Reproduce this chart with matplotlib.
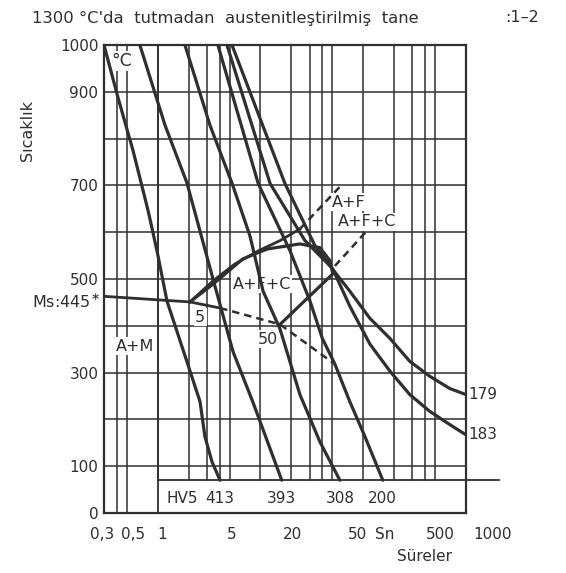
import numpy as np
import matplotlib
matplotlib.use("Agg")
from matplotlib import pyplot as plt

# grid of the chart: time [s] (log axis), temperature [°C]
grid_t = [0.4, 0.5, 1, 2, 3, 4, 5, 10, 20, 30, 40, 50, 100, 200, 300, 400, 500]
grid_T = [100, 200, 300, 400, 500, 600, 700, 800, 900]
hv_box_top = 70  # top of the HV5 strip

# cooling curves (time, temperature)
c413_t = [0.3, 0.41, 0.574, 0.806, 0.984, 1.23, 1.92, 2.58, 2.88, 3.38, 4.04]
c413_T = [1000, 888, 775, 646, 560, 453, 324, 238, 163, 109, 70]
c393_t = [0.67, 1.18, 1.92, 3.45, 5.4, 8.4, 16.1]
c393_T = [1000, 828, 706, 500, 345, 238, 70]
c308_t = [1.84, 3.23, 5.3, 7.9, 10.6, 15.5, 24.2, 37.9, 59.2]
c308_T = [1000, 828, 704, 592, 474, 393, 253, 152, 70]
c200_t = [3.85, 9.5, 19.4, 30.3, 40, 53, 74, 104, 155]
c200_T = [1000, 704, 560, 453, 373, 318, 238, 163, 70]
c179_t = [4.72, 12.4, 27.1, 47.5, 74, 116, 182, 284, 445, 695, 1000]
c179_T = [1000, 704, 582, 528, 474, 416, 373, 324, 292, 266, 253]
c183_t = [5.28, 17.3, 33.9, 50.6, 74, 116, 182, 284, 445, 695, 1000]
c183_T = [1000, 704, 571, 521, 442, 361, 303, 253, 217, 189, 167]
hv_labels = ["413", "393", "308", "200"]
end_labels = ["179", "183"]

# transformation lines
ms_t = [0.3, 2.06, 4.04]
ms_T = [463, 451, 438]
ms_dash_t = [4.04, 15.5, 53]
ms_dash_T = [438, 403, 318]
fs_t = [2.06, 3.45, 5.63, 9.5, 15.5, 24.2]
fs_T = [451, 496, 532, 560, 582, 607]
fs_dash_t = [24.2, 63.4]
fs_dash_T = [607, 704]
ps_t = [2.06, 3.45, 6.74, 11.6, 24.2, 37.9, 47.5, 50.6, 15.5]
ps_T = [451, 489, 543, 564, 575, 567, 539, 511, 403]
pc_dash_t = [53, 108.5]
pc_dash_T = [528, 603]

# axis text
xlabel_text = ["0,3", "0,5", "1", "5", "20", "50", "Sn", "500", "1000"]
xlabel_t = [0.29, 0.575, 1.1, 5.3, 20.6, 87, 160, 560, 1800]
ylabel_vals = [0, 100, 300, 500, 700, 900, 1000]

ink = "#2f2f2f"

fig = plt.figure(figsize=(5.66, 5.73), dpi=100)
ax = fig.add_axes([104 / 566, 60 / 573, 362 / 566, 468 / 573])
ax.set_xscale("log")
ax.set_xlim(0.3, 1000)
ax.set_ylim(0, 1000)

# grid
for t in grid_t:
    ax.plot([t, t], [0 if t < 1 else hv_box_top, 1000], color=ink, lw=1.1, zorder=1)
for T in grid_T:
    ax.plot([0.3, 1000], [T, T], color=ink, lw=1.1, zorder=1)
# HV5 strip
ax.plot([1, 1], [0, 1000], color=ink, lw=1.3, zorder=1)
ax.plot([1, 2100], [hv_box_top, hv_box_top], color=ink, lw=1.3, zorder=1, clip_on=False)

for s in ax.spines.values():
    s.set_linewidth(1.6)
    s.set_color(ink)

# cooling curves
curves = [(c413_t, c413_T), (c393_t, c393_T), (c308_t, c308_T), (c200_t, c200_T),
          (c179_t, c179_T), (c183_t, c183_T)]
for ct, cT in curves:
    ax.plot(ct, cT, color=ink, lw=2.3, zorder=3, solid_capstyle="round",
            solid_joinstyle="round")

dash = (0, (3, 2))
ax.plot(ms_t, ms_T, color=ink, lw=2.0, zorder=3)
ax.plot(ms_dash_t, ms_dash_T, color=ink, lw=1.8, ls=dash, zorder=3)
ax.plot(fs_t, fs_T, color=ink, lw=2.0, zorder=3, solid_joinstyle="round")
ax.plot(fs_dash_t, fs_dash_T, color=ink, lw=1.8, ls=dash, zorder=3)
ax.plot(ps_t, ps_T, color=ink, lw=2.3, zorder=3, solid_joinstyle="round")
ax.plot(pc_dash_t, pc_dash_T, color=ink, lw=1.8, ls=dash, zorder=3)

# hardness values
for (ct, cT), lab in zip(curves[:4], hv_labels):
    ax.text(ct[-1], 30, lab, ha="center", va="center", fontsize=11, color=ink)
ax.text(1.72, 30, "HV5", ha="center", va="center", fontsize=11, color=ink)
for (ct, cT), lab in zip(curves[4:], end_labels):
    ax.text(1060, cT[-1], lab, ha="left", va="center", fontsize=11, color=ink, clip_on=False)

# region labels
box = dict(facecolor="white", edgecolor="none", pad=1)
ax.text(0.45, 966, "°C", ha="center", va="center", fontsize=12.5, color=ink, bbox=box, zorder=2)
ax.text(0.60, 356, "A+M", ha="center", va="center", fontsize=11.5, color=ink, bbox=box, zorder=2)
ax.text(10.3, 489, "A+F+C", ha="center", va="center", fontsize=11.5, color=ink, bbox=box, zorder=2)
ax.text(72, 664, "A+F", ha="center", va="center", fontsize=11.5, color=ink, bbox=box, zorder=2)
ax.text(108, 622, "A+F+C", ha="center", va="center", fontsize=11.5, color=ink, bbox=box, zorder=2)
ax.text(2.58, 418, "5", ha="center", va="center", fontsize=11.5, color=ink, bbox=box, zorder=2)
ax.text(11.8, 371, "50", ha="center", va="center", fontsize=11.5, color=ink, bbox=box, zorder=2)

# axes text
ax.set_xticks([])
ax.set_yticks(ylabel_vals)
ax.set_yticklabels([str(v) for v in ylabel_vals], fontsize=11, color=ink)
ax.tick_params(axis="y", length=0, pad=4)
ax.minorticks_off()
for t, lab in zip(xlabel_t, xlabel_text):
    ax.text(t, -0.047, lab, transform=ax.get_xaxis_transform(), ha="center", va="center",
            fontsize=11, color=ink, clip_on=False)
ax.text(398, -0.094, "Süreler", transform=ax.get_xaxis_transform(), ha="center",
        va="center", fontsize=11, color=ink, clip_on=False)
ax.text(-0.012, 453, r"Ms:445$^{\ast}$", transform=ax.get_yaxis_transform(), ha="right",
        va="center", fontsize=11.5, color=ink, clip_on=False)
ax.text(-0.21, 0.818, "Sıcaklık", transform=ax.transAxes, rotation=90, ha="center",
        va="center", fontsize=11.5, color=ink)

fig.text(32 / 566, 1 - 18 / 573, "1300 °C'da  tutmadan  austenitleştirilmiş  tane",
         ha="left", va="center", fontsize=11.8, color=ink)
fig.text(505 / 566, 1 - 18 / 573, ":1–2", ha="left", va="center", fontsize=11.5, color=ink)

fig.savefig("out.png", dpi=100, facecolor="white")
